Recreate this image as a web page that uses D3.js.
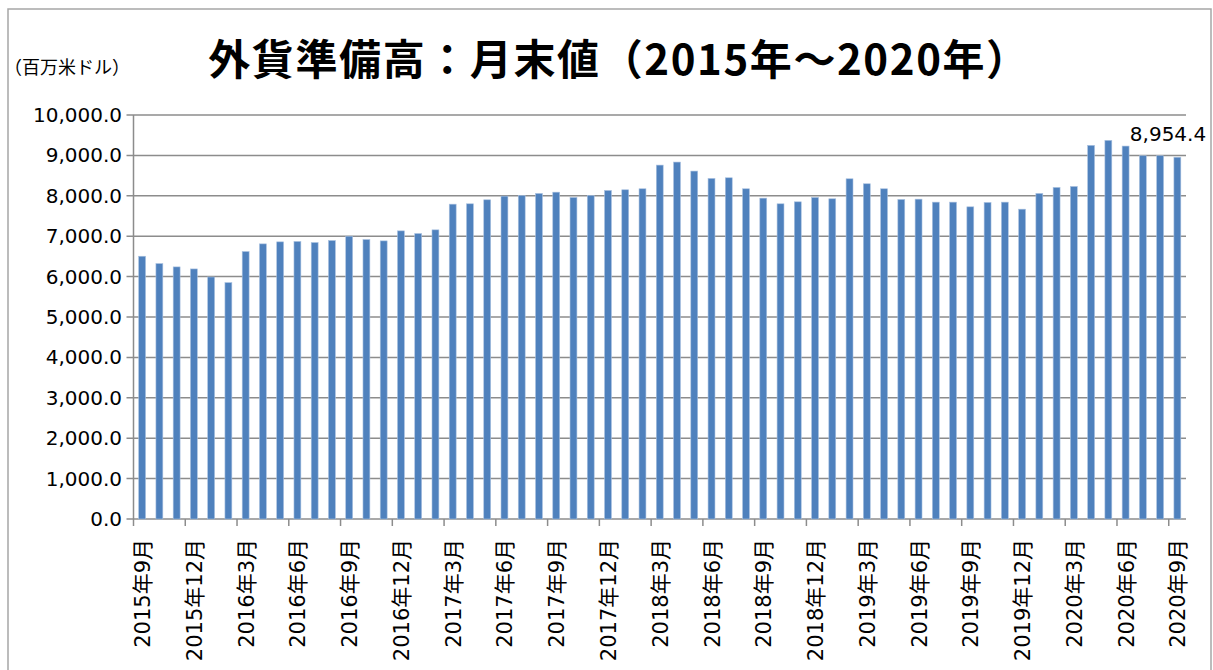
<!DOCTYPE html>
<html>
<head>
<meta charset="utf-8">
<script src="https://cdn.jsdelivr.net/npm/d3@7"></script>
<style>
  body { margin: 0; background: #fff; }
  svg text { font-family: "Noto Sans CJK JP", "Noto Sans", sans-serif; }
</style>
</head>
<body>
<svg id="chart" width="1213" height="670"></svg>
<script>
// month-end foreign reserves, 2015-09 .. 2020-09 (millions of USD)
const months = [
    '2015年9月', '2015年10月', '2015年11月', '2015年12月',
    '2016年1月', '2016年2月', '2016年3月', '2016年4月', '2016年5月', '2016年6月',
    '2016年7月', '2016年8月', '2016年9月', '2016年10月', '2016年11月', '2016年12月',
    '2017年1月', '2017年2月', '2017年3月', '2017年4月', '2017年5月', '2017年6月',
    '2017年7月', '2017年8月', '2017年9月', '2017年10月', '2017年11月', '2017年12月',
    '2018年1月', '2018年2月', '2018年3月', '2018年4月', '2018年5月', '2018年6月',
    '2018年7月', '2018年8月', '2018年9月', '2018年10月', '2018年11月', '2018年12月',
    '2019年1月', '2019年2月', '2019年3月', '2019年4月', '2019年5月', '2019年6月',
    '2019年7月', '2019年8月', '2019年9月', '2019年10月', '2019年11月', '2019年12月',
    '2020年1月', '2020年2月', '2020年3月', '2020年4月', '2020年5月', '2020年6月',
    '2020年7月', '2020年8月', '2020年9月'
];
const reserves = [
    6504, 6322, 6240, 6190, 5990, 5851, 6620, 6810, 6860, 6870, 6843, 6893,
    7000, 6917, 6884, 7132, 7066, 7157, 7793, 7802, 7901, 7992, 8008, 8058,
    8090, 7959, 8008, 8132, 8149, 8174, 8760, 8835, 8612, 8430, 8446, 8174,
    7942, 7802, 7851, 7959, 7926, 8421, 8298, 8174, 7909, 7917, 7843, 7843,
    7727, 7835, 7843, 7669, 8058, 8207, 8231, 9248, 9372, 9231, 8992, 8992,
    8954.4
];
const yTicks = [0, 1000, 2000, 3000, 4000, 5000, 6000, 7000, 8000, 9000, 10000];
const lastLabel = '8,954.4';

let svg = d3.select('#chart');
let plotL = 133.5, plotR = 1186, plotT = 115, plotB = 519;
let numFont = '"DejaVu Sans", "Noto Sans CJK JP", sans-serif';

// outer frame
svg.append('rect')
    .attr('x', 8).attr('y', 9).attr('width', 1203).attr('height', 670)
    .attr('fill', 'none').attr('stroke', '#a6a6a6').attr('stroke-width', 1.5);

svg.append('text')
    .attr('x', 619).attr('y', 75)
    .attr('text-anchor', 'middle')
    .attr('font-size', 42).attr('font-weight', 'bold')
    .attr('letter-spacing', 1.6)
    .text('外貨準備高：月末値（2015年～2020年）');

svg.append('text')
    .attr('x', 4).attr('y', 74)
    .attr('font-size', 18)
    .text('（百万米ドル）');

let x = d3.scaleBand().domain(months).range([plotL, plotR]).paddingInner(0.6).paddingOuter(0.3);
let y = d3.scaleLinear().domain([0, 10000]).range([plotB, plotT]);

// gridlines
svg.append('g').selectAll('line').data(yTicks).join('line')
    .attr('x1', plotL - 7).attr('x2', plotR)
    .attr('y1', d => y(d)).attr('y2', d => y(d))
    .attr('stroke', '#8c8c8c').attr('stroke-width', 1.5);

svg.append('g').selectAll('text').data(yTicks).join('text')
    .attr('x', 122).attr('y', d => y(d) + 7)
    .attr('text-anchor', 'end')
    .attr('font-size', 20)
    .style('font-family', numFont)
    .text(d => d3.format(',.1f')(d));

// bars
svg.append('g').selectAll('rect').data(reserves).join('rect')
    .attr('x', (d, i) => x(months[i]))
    .attr('width', x.bandwidth())
    .attr('y', d => y(d))
    .attr('height', d => plotB - y(d))
    .attr('fill', '#4f81bd')
    .attr('stroke', '#a9c1e0').attr('stroke-width', 0.6);

// y axis line
svg.append('line')
    .attr('x1', plotL).attr('x2', plotL).attr('y1', plotT).attr('y2', plotB)
    .attr('stroke', '#8c8c8c').attr('stroke-width', 1.5);

let step = (plotR - plotL) / months.length;
let tickIdx = d3.range(0, months.length, 3);
svg.append('g').selectAll('line').data(tickIdx).join('line')
    .attr('x1', i => plotL + i * step).attr('x2', i => plotL + i * step)
    .attr('y1', plotB).attr('y2', plotB + 7)
    .attr('stroke', '#8c8c8c').attr('stroke-width', 1.5);

svg.append('g').selectAll('text').data(tickIdx).join('text')
    .attr('transform', i => 'translate(' + (plotL + (i + 0.5) * step + 8) + ',539) rotate(-90)')
    .attr('text-anchor', 'end')
    .attr('font-size', 21)
    .style('font-family', numFont)
    .text(i => months[i]);

// value label on last bar
let li = reserves.length - 1;
svg.append('text')
    .attr('x', 1168)
    .attr('y', y(reserves[li]) - 16)
    .attr('text-anchor', 'middle')
    .attr('font-size', 20)
    .style('font-family', numFont)
    .text(lastLabel);
</script>
</body>
</html>
